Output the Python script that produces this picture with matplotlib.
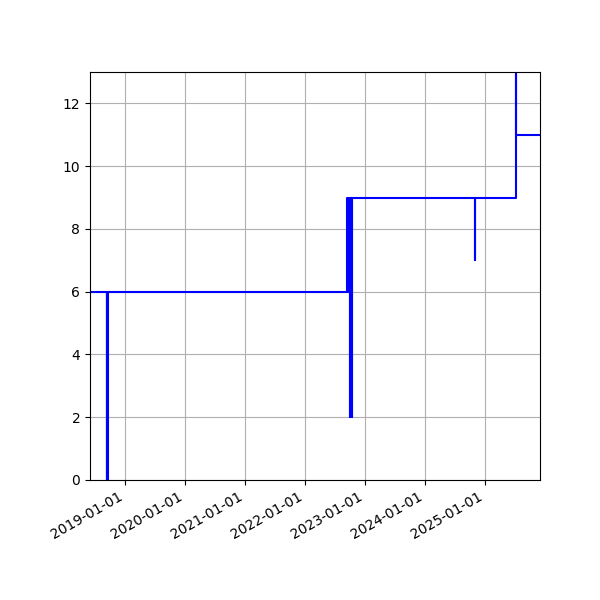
import matplotlib
matplotlib.use("Agg")
import matplotlib.pyplot as plt
import matplotlib.dates as mdates
import pandas as pd

dates = ["2018-05-01", "2018-09-10", "2018-09-13", "2018-09-14", "2018-09-16",
         "2022-09-15", "2022-09-18", "2022-09-20", "2022-09-23", "2022-09-25",
         "2022-09-28", "2022-09-30", "2022-10-03", "2022-10-06", "2022-10-09",
         "2022-10-11", "2022-10-13",
         "2024-10-29", "2024-10-30",
         "2025-07-05", "2025-07-06", "2026-01-31"]
values = [6, 0, 6, 0, 6,
          9, 6, 9, 6, 9,
          6, 2, 9, 2, 9,
          2, 9,
          7, 9,
          15, 11, 11]

x = pd.to_datetime(dates)

fig = plt.figure(figsize=(6, 6), dpi=100)
ax = fig.add_subplot(111)
ax.step(x, values, where="post", color="blue")
ax.set_xlim(pd.Timestamp("2018-06-01"), pd.Timestamp("2025-12-01"))
ax.set_ylim(0, 13)
ax.xaxis.set_major_locator(mdates.YearLocator())
ax.xaxis.set_major_formatter(mdates.DateFormatter("%Y-%m-%d"))
ax.grid(True)
fig.autofmt_xdate()
fig.subplots_adjust(left=0.15, right=0.9, top=0.88, bottom=0.2)
fig.savefig("out.png", dpi=100)
